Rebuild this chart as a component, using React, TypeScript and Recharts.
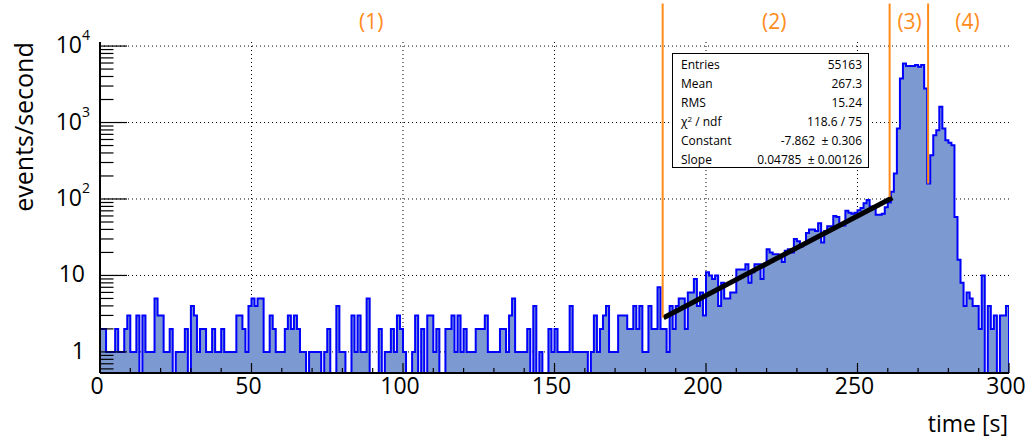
import { Area, CartesianGrid, ComposedChart, ReferenceDot, ReferenceLine, XAxis, YAxis } from "recharts";

// events per 1 s bin (0 = empty bin)
const COUNTS_000_049 = [2, 2, 1, 1, 1, 2, 1, 1, 2, 3, 1, 1, 3, 0, 3, 1, 1, 1, 5, 3, 3, 1, 1, 2, 0, 1, 1, 1, 2, 0, 4, 3, 1, 2, 2, 1, 1, 2, 1, 1, 2, 1, 1, 1, 1, 3, 3, 2, 1, 4];
const COUNTS_050_099 = [5, 4, 5, 5, 1, 1, 3, 2, 1, 1, 1, 2, 3, 2, 3, 2, 1, 1, 0, 1, 1, 1, 1, 0, 1, 2, 0, 0, 4, 1, 1, 0, 0, 3, 1, 3, 1, 1, 5, 0, 0, 0, 2, 0, 1, 1, 2, 1, 3, 2];
const COUNTS_100_149 = [1, 0, 0, 1, 3, 0, 2, 0, 3, 3, 1, 2, 0, 0, 2, 2, 3, 1, 3, 1, 2, 1, 1, 1, 2, 2, 2, 3, 1, 1, 1, 1, 2, 2, 1, 3, 5, 1, 1, 1, 1, 2, 0, 4, 0, 1, 0, 0, 2, 1];
const COUNTS_150_199 = [2, 1, 1, 1, 1, 4, 1, 1, 1, 1, 1, 0, 1, 3, 1, 2, 3, 4, 1, 1, 1, 3, 3, 3, 2, 2, 4, 2, 4, 1, 1, 4, 2, 2, 7, 2, 2, 1, 4, 2, 4, 5, 5, 2, 6, 6, 9, 4, 6, 3];
const COUNTS_200_249 = [11, 10, 9, 10, 4, 8, 5, 5, 6, 6, 12, 12, 12, 14, 8, 11, 14, 14, 9, 14, 22, 20, 19, 19, 17, 15, 21, 22, 20, 30, 28, 24, 26, 36, 40, 40, 38, 48, 27, 38, 44, 44, 60, 58, 45, 45, 70, 66, 64, 66];
const COUNTS_250_299 = [71, 76, 88, 97, 80, 80, 62, 62, 64, 78, 90, 124, 215, 834, 3770, 5930, 5470, 5470, 5470, 5640, 5360, 5640, 2790, 159, 373, 682, 794, 1604, 834, 587, 542, 505, 58, 16, 8, 4, 6, 5, 4, 4, 2, 10, 0, 4, 2, 3, 0, 3, 3, 4];

const COUNTS = [...COUNTS_000_049, ...COUNTS_050_099, ...COUNTS_100_149, ...COUNTS_150_199, ...COUNTS_200_249, ...COUNTS_250_299];

const X_TICKS = [0, 10, 20, 30, 40, 50, 60, 70, 80, 90, 100, 110, 120, 130, 140, 150, 160, 170, 180, 190, 200, 210, 220, 230, 240, 250, 260, 270, 280, 290, 300];
const X_LABELS = [0, 50, 100, 150, 200, 250, 300];
const X_GRID = [50, 100, 150, 200, 250];
const Y_DECADES = [1, 10, 100, 1000, 10000];
const Y_MINOR = [0.6, 0.7, 0.8, 0.9, 2, 3, 4, 5, 6, 7, 8, 9, 20, 30, 40, 50, 60, 70, 80, 90, 200, 300, 400, 500, 600, 700, 800, 900, 2000, 3000, 4000, 5000, 6000, 7000, 8000, 9000];

// exponential fit over region (2), endpoints as drawn
const FIT_LINE = [{ t: 186, n: 2.8 }, { t: 261.5, n: 104 }];
// orange separators: position and the height they stop at
const REGION_BOUNDS = [{ t: 185.7, n: 2.8 }, { t: 260.6, n: 106 }, { t: 273.3, n: 159 }];
const REGION_LABELS = [{ t: 89.5, label: "(1)" }, { t: 222.5, label: "(2)" }, { t: 267.2, label: "(3)" }, { t: 286.3, label: "(4)" }];

const STAT_ROWS = [
  ["Entries", "55163"],
  ["Mean", "267.3"],
  ["RMS", "15.24"],
  ["chi2", "118.6 / 75"],
  ["Constant", "-7.862  \u00b1 0.306"],
  ["Slope", "0.04785  \u00b1 0.00126"],
];

const Y_MIN = 0.53;
const Y_MAX = 11300;
const FONT = '"Open Sans", "Liberation Sans", sans-serif';
const ORANGE = "#ff8c1a";

const histData = [
  { t: 0, n: Y_MIN },
  ...COUNTS.map((c, i) => ({ t: i, n: Math.max(c, Y_MIN) })),
  { t: 300, n: Math.max(COUNTS[COUNTS.length - 1], Y_MIN) },
  { t: 300, n: Y_MIN },
];

function YTick(props: any) {
  const { x, y, payload } = props;
  const v = payload.value;
  const major = Y_DECADES.includes(v);
  const exp = Math.round(Math.log10(v));
  return (
    <g>
      <line x1={x} x2={x + (major ? 27 : 13.5)} y1={y} y2={y} stroke="#000" strokeWidth={1.2} />
      {major &&
        (exp >= 2 ? (
          <text x={x - 10} y={y + 7} textAnchor="end" fontSize={23} fontFamily={FONT} fill="#000">
            10
            <tspan dy={-13} fontSize={14}>
              {exp}
            </tspan>
          </text>
        ) : (
          <text x={x - 15} y={y + 7} textAnchor="end" fontSize={23} fontFamily={FONT} fill="#000">
            {v}
          </text>
        ))}
    </g>
  );
}

function XTick(props: any) {
  const { x, y, payload } = props;
  const v = payload.value;
  const major = X_LABELS.includes(v);
  return (
    <g>
      <line x1={x} x2={x} y1={y} y2={y - (major ? 10 : 5)} stroke="#000" strokeWidth={1.2} />
      {major && (
        <text x={x - 3} y={y + 21} textAnchor="middle" fontSize={23} fontFamily={FONT} fill="#000">
          {v}
        </text>
      )}
    </g>
  );
}

export default function App() {
  return (
    <div style={{ position: "absolute", left: 0, top: 0, width: 1029, height: 441, background: "#fff" }}>
      <ComposedChart width={1029} height={441} data={histData} margin={{ top: 42, right: 20, bottom: 0, left: 0 }}>
        <CartesianGrid
          stroke="#000"
          strokeDasharray="1 3"
          horizontalValues={Y_DECADES}
          verticalValues={X_GRID}
        />
        <Area
          type="stepAfter"
          dataKey="n"
          stroke="#0000ff"
          strokeWidth={2}
          fill="#7d99d1"
          fillOpacity={1}
          baseValue={Y_MIN}
          dot={false}
          activeDot={false}
          isAnimationActive={false}
        />
        <ReferenceLine
          segment={[{ x: FIT_LINE[0].t, y: FIT_LINE[0].n }, { x: FIT_LINE[1].t, y: FIT_LINE[1].n }]}
          stroke="#000"
          strokeWidth={5}
          ifOverflow="visible"
        />
        {REGION_BOUNDS.map((b) => (
          <ReferenceLine
            key={b.t}
            segment={[{ x: b.t, y: b.n }, { x: b.t, y: 36000 }]}
            stroke={ORANGE}
            strokeWidth={2}
            ifOverflow="visible"
          />
        ))}
        {REGION_LABELS.map((r) => (
          <ReferenceDot
            key={r.label}
            x={r.t}
            y={20700}
            r={0}
            fill="none"
            stroke="none"
            ifOverflow="visible"
            label={{ value: r.label, position: "center", fill: ORANGE, fontSize: 21, fontFamily: FONT }}
          />
        ))}
        <XAxis
          type="number"
          dataKey="t"
          domain={[0, 300]}
          ticks={X_TICKS}
          interval={0}
          tickSize={0}
          tickMargin={0}
          tickLine={false}
          tick={<XTick />}
          axisLine={{ stroke: "#000", strokeWidth: 2 }}
          height={68}
          allowDataOverflow
        />
        <YAxis
          type="number"
          scale="log"
          domain={[Y_MIN, Y_MAX]}
          ticks={[...Y_MINOR, ...Y_DECADES]}
          interval={0}
          tickSize={0}
          tickMargin={0}
          tickLine={false}
          tick={<YTick />}
          axisLine={{ stroke: "#000", strokeWidth: 2 }}
          width={100}
          allowDataOverflow
        />
      </ComposedChart>
      <svg style={{ position: "absolute", left: 0, top: 0, pointerEvents: "none" }} width={1029} height={441}>
        <text
          transform="translate(33,127) rotate(-90)"
          textAnchor="middle"
          fontSize={25}
          fontFamily={FONT}
          fill="#000"
        >
          events/second
        </text>
        <text x={1008} y={432} textAnchor="end" fontSize={23} fontFamily={FONT} fill="#000">
          time [s]
        </text>
      </svg>
      <div
        style={{
          position: "absolute",
          left: 672,
          top: 53,
          width: 197,
          height: 115,
          boxSizing: "border-box",
          border: "1px solid #000",
          background: "#fff",
          paddingTop: 1,
          fontFamily: FONT,
          fontSize: 12,
          color: "#000",
        }}
      >
        {STAT_ROWS.map(([k, v]) => (
          <div
            key={k}
            style={{
              display: "flex",
              justifyContent: "space-between",
              height: 19.1,
              lineHeight: "19.1px",
              padding: "0 6px 0 8px",
              whiteSpace: "pre",
            }}
          >
            <span>
              {k === "chi2" ? (
                <>
                  {"\u03c7"}
                  <sup style={{ fontSize: 8, verticalAlign: "4px", lineHeight: 0 }}>2</sup>
                  {" / ndf"}
                </>
              ) : (
                k
              )}
            </span>
            <span>{v}</span>
          </div>
        ))}
      </div>
    </div>
  );
}
